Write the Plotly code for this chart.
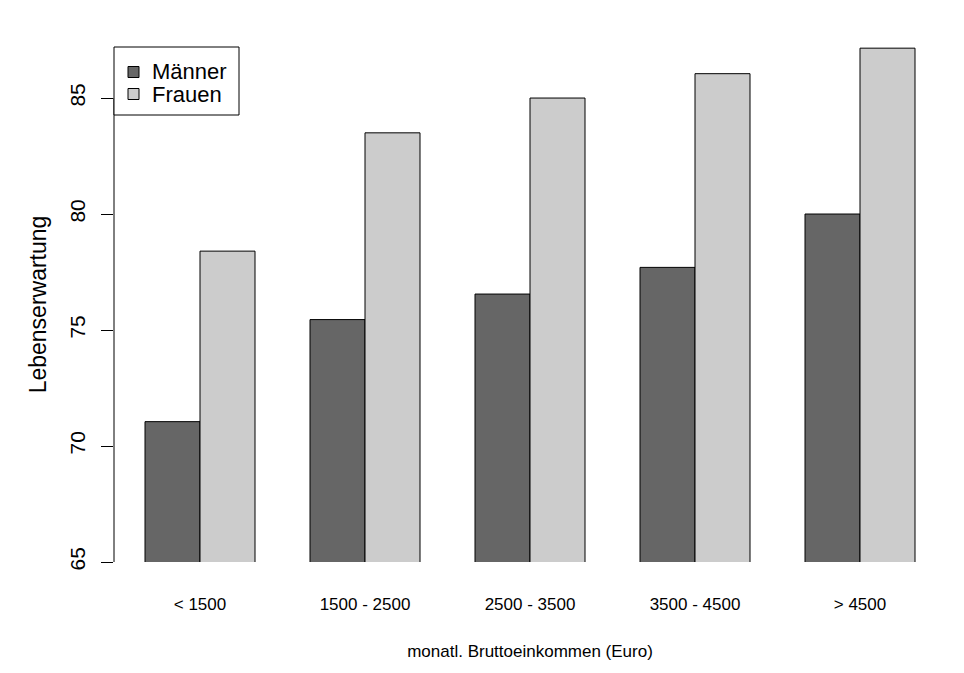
import plotly.graph_objects as go

categories = ["< 1500", "1500 - 2500", "2500 - 3500", "3500 - 4500", "> 4500"]
series_names = ["Männer", "Frauen"]
maenner = [71.05, 75.45, 76.55, 77.7, 80.0]
frauen = [78.4, 83.5, 85.0, 86.05, 87.15]
y_ticks = [65, 70, 75, 80, 85]
y_min, y_max = 65, 87.2
colors = ["#666666", "#CCCCCC"]

FONT = "Liberation Sans, Arial, Helvetica, sans-serif"
W, H = 964, 673
ML, MR, MT, MB = 114, 18, 47, 111
PW, PH = W - ML - MR, H - MT - MB


def px_x(p):
    return (p - ML) / PW


def px_y(p):
    return (H - MB - p) / PH


fig = go.Figure()
for name, vals, col in zip(series_names, [maenner, frauen], colors):
    fig.add_trace(go.Bar(name=name, x=categories, y=vals, showlegend=False,
                         marker=dict(color=col, line=dict(color="black", width=1))))

fig.update_layout(
    width=W, height=H,
    margin=dict(l=ML, r=MR, t=MT, b=MB),
    paper_bgcolor="white", plot_bgcolor="white",
    barmode="group", bargap=1/3, bargroupgap=0,
    font=dict(family=FONT, color="black"),
    xaxis=dict(type="category", range=[-0.5212, 4.5212],
               showline=False, showgrid=False, zeroline=False, ticks="",
               tickfont=dict(size=17, family=FONT), ticklabelstandoff=30,
               title=dict(text="monatl. Bruttoeinkommen (Euro)",
                          font=dict(size=17, family=FONT), standoff=32)),
    yaxis=dict(range=[y_min, y_max], tickvals=y_ticks, ticktext=[str(t) for t in y_ticks],
               ticks="outside", ticklen=12, tickwidth=1, tickcolor="black",
               tickangle=-90, tickfont=dict(size=21, family=FONT), ticklabelstandoff=8,
               showline=False, showgrid=False, zeroline=False,
               title=dict(text="Lebenserwartung", font=dict(size=23, family=FONT), standoff=12)),
)

# R-style axis line spanning only the tick range
fig.add_shape(type="line", xref="paper", yref="y", x0=0, x1=0,
              y0=min(y_ticks), y1=max(y_ticks), line=dict(color="black", width=1))

# R-style legend (topleft)
fig.add_shape(type="rect", xref="paper", yref="paper",
              x0=px_x(114), x1=px_x(239), y0=px_y(115), y1=px_y(47),
              line=dict(color="black", width=1), fillcolor="white", layer="above")
for i, (name, col) in enumerate(zip(series_names, colors)):
    cy = 72 + 22 * i
    fig.add_shape(type="rect", xref="paper", yref="paper",
                  x0=px_x(128), x1=px_x(139), y0=px_y(cy + 5.5), y1=px_y(cy - 5.5),
                  line=dict(color="black", width=1), fillcolor=col, layer="above")
    fig.add_annotation(xref="paper", yref="paper", x=px_x(150), y=px_y(cy),
                       xanchor="left", yanchor="middle", text=name, showarrow=False,
                       font=dict(size=22, family=FONT, color="black"))

fig.write_html("out.html")
